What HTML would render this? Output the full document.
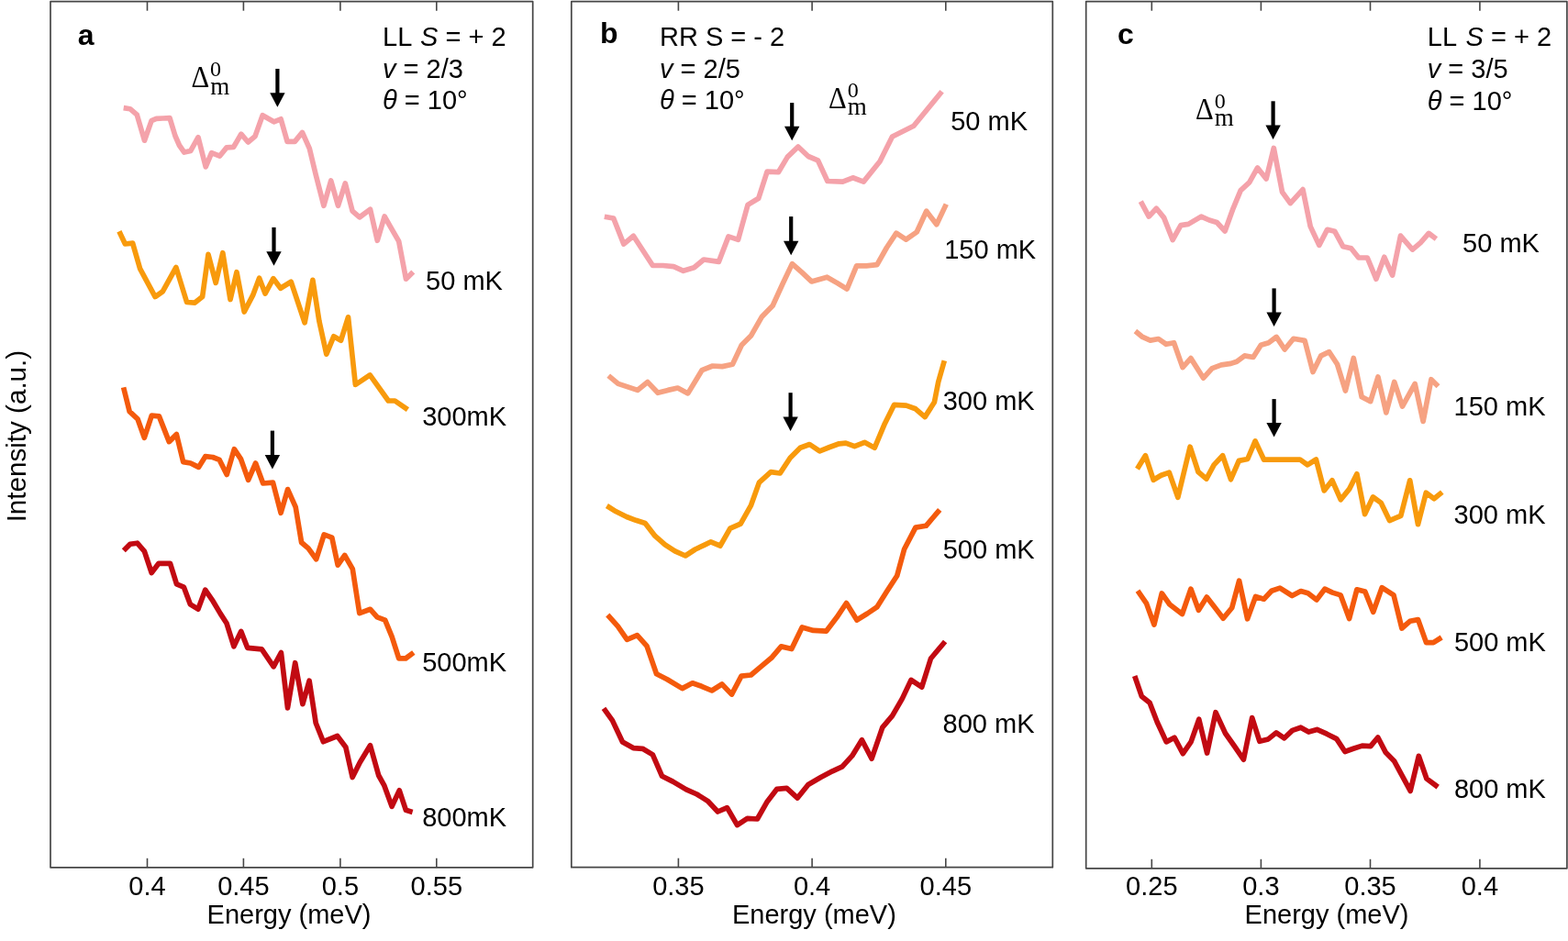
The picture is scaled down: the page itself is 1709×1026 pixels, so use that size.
<!DOCTYPE html><html><head><meta charset="utf-8"><style>html,body{margin:0;padding:0;background:#fff;overflow:hidden}svg{display:block}text{font-family:"Liberation Sans",Arial,sans-serif;fill:#000}.s{font-family:"Liberation Serif","Times New Roman",serif}</style></head><body>
<svg width="1709" height="1026" viewBox="0 0 1709 1026">
<rect width="100%" height="100%" fill="#fff"/>
<rect x="55" y="1.7" width="525.7" height="944.1" fill="none" stroke="#464646" stroke-width="1.7" stroke-linejoin="round"/>
<line x1="160.5" y1="945.8" x2="160.5" y2="935.8" stroke="#464646" stroke-width="1.6"/>
<line x1="160.5" y1="1.7" x2="160.5" y2="11.7" stroke="#464646" stroke-width="1.6"/>
<text x="160.5" y="976" font-size="29" text-anchor="middle">0.4</text>
<line x1="265.4" y1="945.8" x2="265.4" y2="935.8" stroke="#464646" stroke-width="1.6"/>
<line x1="265.4" y1="1.7" x2="265.4" y2="11.7" stroke="#464646" stroke-width="1.6"/>
<text x="265.4" y="976" font-size="29" text-anchor="middle">0.45</text>
<line x1="370.9" y1="945.8" x2="370.9" y2="935.8" stroke="#464646" stroke-width="1.6"/>
<line x1="370.9" y1="1.7" x2="370.9" y2="11.7" stroke="#464646" stroke-width="1.6"/>
<text x="370.9" y="976" font-size="29" text-anchor="middle">0.5</text>
<line x1="475.8" y1="945.8" x2="475.8" y2="935.8" stroke="#464646" stroke-width="1.6"/>
<line x1="475.8" y1="1.7" x2="475.8" y2="11.7" stroke="#464646" stroke-width="1.6"/>
<text x="475.8" y="976" font-size="29" text-anchor="middle">0.55</text>
<rect x="622.8" y="1.7" width="524.5" height="944.0" fill="none" stroke="#464646" stroke-width="1.7" stroke-linejoin="round"/>
<line x1="739.4" y1="945.7" x2="739.4" y2="935.7" stroke="#464646" stroke-width="1.6"/>
<line x1="739.4" y1="1.7" x2="739.4" y2="11.7" stroke="#464646" stroke-width="1.6"/>
<text x="739.4" y="976" font-size="29" text-anchor="middle">0.35</text>
<line x1="885.1" y1="945.7" x2="885.1" y2="935.7" stroke="#464646" stroke-width="1.6"/>
<line x1="885.1" y1="1.7" x2="885.1" y2="11.7" stroke="#464646" stroke-width="1.6"/>
<text x="885.1" y="976" font-size="29" text-anchor="middle">0.4</text>
<line x1="1030.8" y1="945.7" x2="1030.8" y2="935.7" stroke="#464646" stroke-width="1.6"/>
<line x1="1030.8" y1="1.7" x2="1030.8" y2="11.7" stroke="#464646" stroke-width="1.6"/>
<text x="1030.8" y="976" font-size="29" text-anchor="middle">0.45</text>
<rect x="1183.7" y="1.7" width="524.2" height="945.1" fill="none" stroke="#464646" stroke-width="1.7" stroke-linejoin="round"/>
<line x1="1255.3" y1="946.8" x2="1255.3" y2="936.8" stroke="#464646" stroke-width="1.6"/>
<line x1="1255.3" y1="1.7" x2="1255.3" y2="11.7" stroke="#464646" stroke-width="1.6"/>
<text x="1255.3" y="976" font-size="29" text-anchor="middle">0.25</text>
<line x1="1374.4" y1="946.8" x2="1374.4" y2="936.8" stroke="#464646" stroke-width="1.6"/>
<line x1="1374.4" y1="1.7" x2="1374.4" y2="11.7" stroke="#464646" stroke-width="1.6"/>
<text x="1374.4" y="976" font-size="29" text-anchor="middle">0.3</text>
<line x1="1493.5" y1="946.8" x2="1493.5" y2="936.8" stroke="#464646" stroke-width="1.6"/>
<line x1="1493.5" y1="1.7" x2="1493.5" y2="11.7" stroke="#464646" stroke-width="1.6"/>
<text x="1493.5" y="976" font-size="29" text-anchor="middle">0.35</text>
<line x1="1612.9" y1="946.8" x2="1612.9" y2="936.8" stroke="#464646" stroke-width="1.6"/>
<line x1="1612.9" y1="1.7" x2="1612.9" y2="11.7" stroke="#464646" stroke-width="1.6"/>
<text x="1612.9" y="976" font-size="29" text-anchor="middle">0.4</text>
<text x="315" y="1007.2" font-size="29" text-anchor="middle">Energy (meV)</text>
<text x="887.4" y="1007.2" font-size="29" text-anchor="middle">Energy (meV)</text>
<text x="1446" y="1007.2" font-size="29" text-anchor="middle">Energy (meV)</text>
<text transform="translate(27.9,475.6) rotate(-90)" font-size="29.6" text-anchor="middle">Intensity (a.u.)</text>
<text x="84.7" y="49.2" font-size="32" font-weight="bold">a</text>
<text x="654.1" y="46.8" font-size="32" font-weight="bold">b</text>
<text x="1218" y="48.4" font-size="32" font-weight="bold">c</text>
<text x="417" y="49.5" font-size="29">LL <tspan dx="1.8" font-style="italic">S</tspan> = + 2</text>
<text x="417" y="84.8" font-size="29"><tspan font-style="italic">v</tspan> = 2/3</text>
<text x="417" y="119.1" font-size="29"><tspan font-style="italic">θ</tspan> = 10°</text>
<text x="719" y="49.6" font-size="29">RR <tspan dx="0">S</tspan> = - 2</text>
<text x="719" y="84.9" font-size="29"><tspan font-style="italic">v</tspan> = 2/5</text>
<text x="719" y="119.19999999999999" font-size="29"><tspan font-style="italic">θ</tspan> = 10°</text>
<text x="1555.8" y="50.1" font-size="29">LL <tspan dx="2.5" font-style="italic">S</tspan> = + 2</text>
<text x="1555.8" y="85.4" font-size="29"><tspan font-style="italic">v</tspan> = 3/5</text>
<text x="1555.8" y="119.69999999999999" font-size="29"><tspan font-style="italic">θ</tspan> = 10°</text>
<text x="464.1" y="316.2" font-size="29">50 mK</text>
<text x="460.2" y="463.9" font-size="29">300mK</text>
<text x="460.2" y="731.5" font-size="29">500mK</text>
<text x="460.2" y="900.9" font-size="29">800mK</text>
<text x="1036.2" y="141.5" font-size="29">50 mK</text>
<text x="1029.2" y="282.4" font-size="29">150 mK</text>
<text x="1027.7" y="447.2" font-size="29">300 mK</text>
<text x="1027.7" y="608.7" font-size="29">500 mK</text>
<text x="1027.6" y="798.7" font-size="29">800 mK</text>
<text x="1594.1" y="275.3" font-size="29">50 mK</text>
<text x="1584.6" y="452.6" font-size="29">150 mK</text>
<text x="1584.6" y="570.9" font-size="29">300 mK</text>
<text x="1584.9" y="709.5" font-size="29">500 mK</text>
<text x="1584.9" y="870.0" font-size="29">800 mK</text>
<text class="s" transform="translate(208.5,95.1) scale(0.96,1.03)" font-size="32">Δ</text>
<text class="s" x="229.1" y="83.3" font-size="24">0</text>
<text class="s" x="229.2" y="102.5" font-size="27">m</text>
<text class="s" transform="translate(903.1,118.0) scale(0.96,1.03)" font-size="32">Δ</text>
<text class="s" x="923.7" y="106.2" font-size="24">0</text>
<text class="s" x="923.8" y="125.4" font-size="27">m</text>
<text class="s" transform="translate(1303.1,129.7) scale(0.96,1.03)" font-size="32">Δ</text>
<text class="s" x="1323.7" y="117.9" font-size="24">0</text>
<text class="s" x="1323.8" y="137.1" font-size="27">m</text>
<line x1="302.4" y1="75" x2="302.4" y2="102.7" stroke="#000" stroke-width="4.2"/>
<polygon points="294.2,101.2 310.59999999999997,101.2 302.4,116.7" fill="#000"/>
<line x1="298.5" y1="247.9" x2="298.5" y2="275.7" stroke="#000" stroke-width="4.2"/>
<polygon points="290.3,274.2 306.7,274.2 298.5,289.7" fill="#000"/>
<line x1="296.9" y1="469.6" x2="296.9" y2="497.5" stroke="#000" stroke-width="4.2"/>
<polygon points="288.7,496.0 305.09999999999997,496.0 296.9,511.5" fill="#000"/>
<line x1="863.2" y1="112.1" x2="863.2" y2="139.3" stroke="#000" stroke-width="4.2"/>
<polygon points="855.0,137.8 871.4000000000001,137.8 863.2,153.3" fill="#000"/>
<line x1="862.2" y1="236.1" x2="862.2" y2="264.2" stroke="#000" stroke-width="4.2"/>
<polygon points="854.0,262.7 870.4000000000001,262.7 862.2,278.2" fill="#000"/>
<line x1="861.6" y1="428.2" x2="861.6" y2="455.9" stroke="#000" stroke-width="4.2"/>
<polygon points="853.4,454.4 869.8000000000001,454.4 861.6,469.9" fill="#000"/>
<line x1="1387.6" y1="110.3" x2="1387.6" y2="138" stroke="#000" stroke-width="4.2"/>
<polygon points="1379.3999999999999,136.5 1395.8,136.5 1387.6,152" fill="#000"/>
<line x1="1388.6" y1="314.4" x2="1388.6" y2="342.1" stroke="#000" stroke-width="4.2"/>
<polygon points="1380.3999999999999,340.6 1396.8,340.6 1388.6,356.1" fill="#000"/>
<line x1="1388.6" y1="435.1" x2="1388.6" y2="462.5" stroke="#000" stroke-width="4.2"/>
<polygon points="1380.3999999999999,461.0 1396.8,461.0 1388.6,476.5" fill="#000"/>
<polyline points="134.7,117.6 141.7,118.7 149.3,125.2 157.5,153.2 165.1,131.6 170.4,129.3 177.6,129.0 185.0,128.7 190.9,148.0 195.5,158.5 200.8,166.1 207.8,164.4 216.0,149.7 224.2,181.9 230.6,166.7 239.4,170.2 247.0,160.9 254.6,160.3 262.8,146.2 270.4,155.0 278.0,148.6 286.2,125.7 298.5,132.8 306.1,129.8 313.1,154.4 321.3,154.4 329.5,144.4 337.3,161.9 344.1,190.2 352.9,224.3 360.7,197.0 368.5,224.3 376.3,199.9 384.1,230.1 391.9,236.9 403.5,228.2 411.3,262.3 419.1,236.0 426.9,249.6 434.7,263.2 442.5,304.2 450.3,296.4" fill="none" stroke="#F4A2AA" stroke-width="5.7" stroke-linejoin="round" stroke-linecap="butt"/>
<polyline points="129.9,252.3 136.4,266.0 144.6,265.1 152.7,293.2 169.1,323.6 177.3,317.8 191.9,291.5 203.6,329.5 212.4,330.1 220.6,323.6 227.0,277.4 235.2,308.4 242.8,275.7 251.0,326.5 258.0,296.7 266.2,340.0 275.6,321.9 282.6,303.2 289.0,320.1 297.9,303.7 305.8,314.2 317.2,307.2 332.1,351.9 340.9,305.4 347.9,350.2 355.8,386.1 363.7,366.8 371.6,371.2 379.5,345.8 387.4,419.5 403.2,408.9 423.3,437.0 430.4,437.0 444.4,446.7" fill="none" stroke="#F89A0C" stroke-width="5.7" stroke-linejoin="round" stroke-linecap="butt"/>
<polyline points="134.6,422.4 141.2,448.7 150.0,456.8 157.3,477.3 165.3,453.1 173.4,453.9 184.3,481.6 192.4,473.6 199.7,503.6 207.7,505.0 216.5,509.4 223.8,497.7 231.9,498.5 239.2,501.4 247.2,517.5 255.3,489.7 262.6,500.7 270.6,523.3 278.6,505.0 286.7,527.0 297.5,526.1 306.1,559.3 313.6,533.6 322.2,552.9 328.6,591.5 336.1,597.9 344.7,609.7 353.2,582.9 361.8,586.1 368.2,616.1 375.7,605.4 384.3,620.4 391.8,668.6 403.6,664.3 411.1,672.9 419.7,676.1 427.2,694.3 434.7,717.9 442.2,717.9 450.8,711.5" fill="none" stroke="#F45A0C" stroke-width="5.7" stroke-linejoin="round" stroke-linecap="butt"/>
<polyline points="134.8,600.3 141.8,593.3 149.6,592.2 157.4,601.1 165.2,624.5 173.0,614.3 185.5,614.3 192.5,636.9 200.3,640.1 207.3,658.8 215.9,664.2 223.7,643.2 232.3,655.7 240.1,668.9 247.1,679.8 254.9,704.8 262.7,688.4 269.7,706.3 285.3,707.9 298.2,726.8 306.4,711.5 313.5,771.8 321.7,722.7 329.9,767.7 337.1,742.2 344.2,788.2 352.4,808.7 367.7,802.5 376.9,814.8 384.1,847.5 392.3,831.2 403.5,812.7 412.7,845.5 418.9,856.7 427.1,879.2 435.3,861.8 442.4,883.3 449.6,885.4" fill="none" stroke="#C20A12" stroke-width="5.7" stroke-linejoin="round" stroke-linecap="butt"/>
<polyline points="658.8,236.2 668.7,238.0 679.8,266.1 690.4,257.3 711.4,289.5 722.6,289.5 734.3,290.6 744.8,295.3 756.5,291.8 767.0,283.0 783.4,285.4 794.0,257.9 804.5,261.4 815.0,223.4 826.7,216.3 836.1,187.1 848.4,187.7 858.3,171.1 869.9,160.0 881.0,170.5 891.4,174.8 901.9,197.5 918.5,198.1 929.5,193.8 941.2,198.1 959.0,176.0 972.5,149.0 995.9,137.3 1026.6,99.8" fill="none" stroke="#F4A2AA" stroke-width="5.7" stroke-linejoin="round" stroke-linecap="butt"/>
<polyline points="663.2,409.6 673.7,418.4 684.3,421.9 694.8,425.4 705.9,416.6 717.0,428.3 728.1,425.4 738.7,423.0 749.8,428.9 765.0,403.7 776.7,399.0 787.2,399.6 798.4,397.3 808.3,376.2 818.8,365.7 830.5,345.2 842.2,333.2 852.9,309.8 863.4,287.6 873.9,296.9 884.5,306.9 901.4,302.2 912.6,308.6 923.1,315.1 933.6,289.9 944.2,289.9 955.9,288.7 966.4,270.0 976.9,254.2 987.5,261.2 999.2,253.0 1009.7,230.2 1020.8,244.8 1031.3,222.6" fill="none" stroke="#F6A282" stroke-width="5.7" stroke-linejoin="round" stroke-linecap="butt"/>
<polyline points="661.4,551.5 671.5,557.8 683.0,563.5 693.1,567.3 703.2,570.5 714.0,584.4 724.8,593.9 735.6,600.9 747.0,606.0 757.7,599.0 768.5,593.9 774.8,590.8 785.0,595.2 795.8,576.2 807.2,571.1 818.6,550.8 827.4,526.1 840.1,514.7 850.2,516.0 861.2,499.2 872.2,488.2 882.4,484.5 893.4,491.8 904.3,487.5 914.6,483.8 921.9,483.1 931.4,486.7 942.3,482.3 953.3,488.2 964.3,461.9 974.5,441.4 987.7,442.1 997.9,445.8 1008.1,454.6 1018.4,438.5 1022.7,416.5 1029.3,393.2" fill="none" stroke="#F89A0C" stroke-width="5.7" stroke-linejoin="round" stroke-linecap="butt"/>
<polyline points="662.3,670.5 673.4,682.8 683.4,697.4 694.5,692.7 705.0,704.4 715.5,734.8 727.2,740.7 743.6,750.6 754.7,744.8 764.7,748.3 775.8,753.0 786.9,746.0 797.5,757.1 808.0,737.2 818.5,736.0 830.2,726.1 840.8,717.3 851.4,704.9 862.8,707.5 874.2,683.9 886.5,687.4 900.5,688.2 911.9,673.3 922.5,657.5 933.9,676.0 945.3,669.0 955.8,661.9 966.3,645.3 977.7,627.7 985.6,598.8 997.9,575.1 1009.3,573.3 1024.2,555.8" fill="none" stroke="#F45A0C" stroke-width="5.7" stroke-linejoin="round" stroke-linecap="butt"/>
<polyline points="658.0,772.4 667.5,785.6 678.5,809.0 690.2,815.6 700.4,816.3 711.4,822.9 721.6,846.3 733.3,852.1 748.0,860.9 759.6,866.0 771.3,873.3 782.3,885.0 792.5,880.6 803.5,899.6 814.5,892.3 825.4,893.0 835.7,874.8 846.8,860.3 857.5,859.3 869.2,870.1 880.9,855.4 894.6,847.6 907.3,840.8 918.0,835.9 928.7,824.2 939.4,806.7 950.1,827.2 961.8,793.1 972.6,780.4 983.3,761.9 993.0,741.4 1004.7,749.2 1014.5,718.0 1030.1,699.5" fill="none" stroke="#C20A12" stroke-width="5.7" stroke-linejoin="round" stroke-linecap="butt"/>
<polyline points="1243.3,219.7 1252.2,236.1 1260.4,227.3 1268.6,237.4 1278.1,261.5 1287.0,245.6 1295.2,244.4 1309.2,236.1 1318.0,240.0 1326.3,242.5 1335.1,252.0 1344.0,227.3 1352.2,207.6 1361.7,198.8 1370.6,182.9 1380.1,195.0 1388.3,161.4 1397.5,209.3 1406.4,221.6 1420.0,206.6 1428.2,246.9 1437.8,267.4 1446.6,250.3 1454.8,252.3 1463.7,268.7 1472.6,270.8 1480.8,281.0 1490.3,281.0 1499.9,304.2 1508.8,280.3 1517.6,300.1 1526.5,257.1 1539.5,272.1 1548.3,264.6 1557.2,254.4 1565.4,260.5" fill="none" stroke="#F4A2AA" stroke-width="5.7" stroke-linejoin="round" stroke-linecap="butt"/>
<polyline points="1237.4,361.1 1245.3,367.4 1253.7,371.1 1262.7,369.5 1271.1,375.3 1279.5,373.7 1289.0,400.6 1297.9,390.6 1311.6,412.2 1321.1,401.6 1331.1,397.9 1341.6,396.4 1348.0,394.3 1356.4,387.9 1365.9,389.5 1374.3,376.3 1382.7,373.7 1391.2,367.4 1400.2,381.0 1409.8,369.3 1422.1,371.4 1431.0,405.5 1439.8,387.8 1448.7,383.7 1457.6,397.3 1466.4,426.0 1475.3,390.5 1484.2,432.8 1493.7,437.6 1501.9,411.0 1510.8,449.9 1519.7,416.4 1528.5,443.1 1542.2,418.5 1551.1,459.4 1559.9,413.7 1567.5,421.2" fill="none" stroke="#F6A282" stroke-width="5.7" stroke-linejoin="round" stroke-linecap="butt"/>
<polyline points="1239.5,511.3 1248.4,496.7 1257.2,523.3 1265.5,518.3 1274.3,515.1 1283.8,542.3 1297.1,487.2 1306.0,514.5 1314.9,522.1 1323.1,506.9 1332.6,496.7 1341.5,522.7 1350.3,502.4 1359.8,500.5 1368.1,480.9 1377.6,501.2 1416.9,501.0 1425.1,506.8 1434.4,501.0 1443.2,534.9 1452.0,523.8 1461.3,544.8 1470.7,533.1 1478.9,516.8 1487.6,560.6 1496.4,541.9 1505.2,548.3 1514.5,567.6 1526.8,562.4 1536.7,523.8 1545.5,571.7 1554.3,537.2 1563.0,543.7 1571.8,536.6" fill="none" stroke="#F89A0C" stroke-width="5.7" stroke-linejoin="round" stroke-linecap="butt"/>
<polyline points="1240.0,644.2 1249.5,657.9 1257.9,681.1 1266.3,646.9 1274.8,659.0 1288.5,669.5 1297.9,642.1 1306.4,665.3 1315.3,651.1 1324.8,663.2 1333.2,674.2 1342.7,662.7 1350.6,633.2 1359.6,674.8 1368.5,650.5 1377.5,653.2 1385.9,644.2 1395.0,641.1 1408.3,649.5 1417.8,644.5 1425.6,646.7 1435.0,653.9 1443.9,642.2 1452.3,646.1 1461.2,648.9 1470.6,674.5 1478.9,642.8 1487.8,645.0 1496.7,667.3 1506.2,640.6 1519.0,648.9 1527.9,685.0 1536.7,677.3 1545.6,675.6 1554.5,700.6 1562.3,700.6 1571.2,695.0" fill="none" stroke="#F45A0C" stroke-width="5.7" stroke-linejoin="round" stroke-linecap="butt"/>
<polyline points="1236.7,737.0 1244.3,759.2 1253.1,766.2 1261.2,787.2 1271.2,808.9 1280.0,804.2 1289.3,821.7 1298.1,808.9 1306.8,784.3 1315.6,821.1 1325.0,776.7 1335.5,799.5 1345.4,813.5 1355.4,828.2 1364.7,782.6 1372.9,808.3 1382.3,805.9 1391.0,798.9 1399.8,804.8 1408.6,796.4 1417.7,793.2 1426.3,798.1 1435.4,795.4 1446.1,800.2 1456.8,805.6 1465.9,819.5 1475.0,816.3 1484.7,813.1 1493.8,813.6 1501.8,804.0 1510.4,820.6 1519.5,829.7 1537.2,862.4 1546.3,824.3 1554.9,849.0 1567.2,858.1" fill="none" stroke="#C20A12" stroke-width="5.7" stroke-linejoin="round" stroke-linecap="butt"/>
</svg></body></html>
